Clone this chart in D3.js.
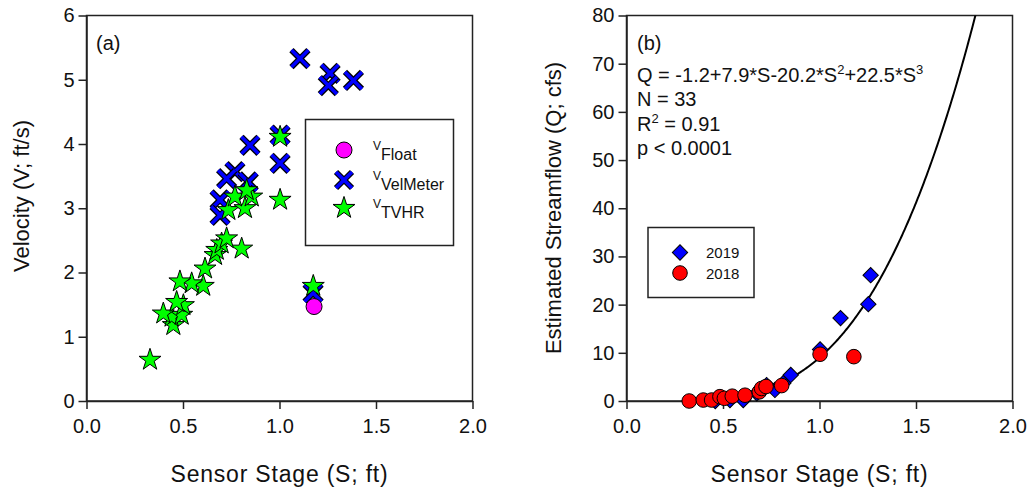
<!DOCTYPE html>
<html>
<head>
<meta charset="utf-8">
<script src="https://cdn.jsdelivr.net/npm/d3@7"></script>
<style>
  body { margin: 0; background: #fff; }
  svg text { font-family: "Liberation Sans", Arial, sans-serif; fill: #111; }
</style>
</head>
<body>
<svg id="chart"></svg>
<script>
const width = 1031, height = 492;

// panel (a): velocity vs stage
const floatStage = [1.179];
const floatVel = [1.47];
const velMeterStage = [1.106, 1.262, 1.253, 1.383, 1.003, 1.003, 0.847, 0.769, 0.726, 0.838, 0.692, 0.692, 1.174];
const velMeterVel   = [5.33, 5.10, 4.91, 4.99, 4.14, 3.70, 3.98, 3.57, 3.46, 3.41, 3.13, 2.89, 1.68];
const tvhrStage = [0.329, 0.450, 0.441, 0.493, 0.398, 0.502, 0.467, 0.605, 0.545, 0.484, 0.614, 0.666, 0.675, 0.804,
                   0.700, 0.726, 0.735, 0.821, 0.769, 0.856, 0.830, 1.003, 1.003, 1.175];
const tvhrVel   = [0.64, 1.18, 1.31, 1.34, 1.36, 1.49, 1.54, 1.79, 1.83, 1.86, 2.06, 2.27, 2.35, 2.37,
                   2.45, 2.53, 2.97, 3.00, 3.18, 3.18, 3.28, 3.13, 4.11, 1.79];

// panel (b): streamflow vs stage
const q2019Stage = [1.265, 1.253, 1.109, 1.003, 0.851, 0.812, 0.769, 0.726, 0.700, 0.675, 0.605, 0.536, 0.460];
const q2019Flow  = [26.1, 20.1, 17.2, 10.7, 5.4, 3.7, 2.3, 3.3, 2.5, 1.6, 0.2, 0.2, 0.0];
const q2018Stage = [0.325, 0.398, 0.441, 0.484, 0.507, 0.548, 0.614, 0.688, 0.700, 0.723, 0.804, 1.003, 1.178];
const q2018Flow  = [0.0, 0.2, 0.2, 0.9, 0.56, 1.0, 1.2, 1.9, 2.6, 3.0, 3.2, 9.7, 9.2];
const fitCoef = [-1.2, 7.9, -20.2, 22.5];

const xTicks = [0, 0.5, 1.0, 1.5, 2.0];
const velTicks = [0, 1, 2, 3, 4, 5, 6];
const flowTicks = [0, 10, 20, 30, 40, 50, 60, 70, 80];

const svg = d3.select("#chart").attr("width", width).attr("height", height);

// scales
const xA = d3.scaleLinear().domain([0, 2]).range([86.5, 472.5]);
const yA = d3.scaleLinear().domain([0, 6]).range([401, 15.5]);
const xB = d3.scaleLinear().domain([0, 2]).range([626.5, 1012.5]);
const yB = d3.scaleLinear().domain([0, 80]).range([401, 15.5]);

function drawFrame(x, y, xt, yt, yfmt) {
    svg.append("rect")
        .attr("x", x.range()[0]).attr("y", y.range()[1])
        .attr("width", x.range()[1] - x.range()[0])
        .attr("height", y.range()[0] - y.range()[1])
        .attr("fill", "none").attr("stroke", "#222").attr("stroke-width", 1.5);

    const gx = svg.append("g").attr("transform", `translate(0,${y.range()[0]})`)
        .call(d3.axisBottom(x).tickValues(xt).tickFormat(d3.format(".1f")).tickSize(8).tickSizeOuter(0));
    const gy = svg.append("g").attr("transform", `translate(${x.range()[0]},0)`)
        .call(d3.axisLeft(y).tickValues(yt).tickFormat(yfmt).tickSize(8).tickSizeOuter(0));
    [gx, gy].forEach(g => {
        g.select(".domain").attr("stroke", "#222").attr("stroke-width", 1.5);
        g.selectAll(".tick line").attr("stroke", "#222").attr("stroke-width", 1.5);
        g.selectAll(".tick text").attr("font-size", 20).attr("fill", "#111")
            .style("font-family", '"Liberation Sans", Arial, sans-serif');
    });
    gx.selectAll(".tick text").attr("dy", "1.05em");
    gy.selectAll(".tick text").attr("x", -12);
}

drawFrame(xA, yA, xTicks, velTicks, d3.format("d"));
drawFrame(xB, yB, xTicks, flowTicks, d3.format("d"));

// axis titles
svg.append("text").attr("x", (xA.range()[0] + xA.range()[1]) / 2).attr("y", 482)
    .attr("text-anchor", "middle").attr("font-size", 23).style("letter-spacing", "0.8px")
    .text("Sensor Stage (S; ft)");
svg.append("text").attr("x", (xB.range()[0] + xB.range()[1]) / 2).attr("y", 482)
    .attr("text-anchor", "middle").attr("font-size", 23).style("letter-spacing", "0.8px")
    .text("Sensor Stage (S; ft)");
svg.append("text").attr("transform", "translate(29,196) rotate(-90)")
    .attr("text-anchor", "middle").attr("font-size", 22)
    .text("Velocity (V; ft/s)");
svg.append("text").attr("transform", "translate(561,208) rotate(-90)")
    .attr("text-anchor", "middle").attr("font-size", 22)
    .text("Estimated Streamflow (Q; cfs)");

// panel labels
svg.append("text").attr("x", 96).attr("y", 50).attr("font-size", 20).text("(a)");
svg.append("text").attr("x", 637).attr("y", 50).attr("font-size", 20).text("(b)");

// marker helpers
const star = d3.symbol().type(d3.symbolStar).size(150);
function drawCross(g, cx, cy, s) {
    [[-s, -s, s, s], [-s, s, s, -s]].forEach(([a, b, c, d]) => {
        g.append("line").attr("x1", cx + a).attr("y1", cy + b).attr("x2", cx + c).attr("y2", cy + d)
            .attr("stroke", "#000").attr("stroke-width", 6);
    });
    [[-s, -s, s, s], [-s, s, s, -s]].forEach(([a, b, c, d]) => {
        g.append("line").attr("x1", cx + a).attr("y1", cy + b).attr("x2", cx + c).attr("y2", cy + d)
            .attr("stroke", "#0000ff").attr("stroke-width", 3.5);
    });
}

// panel (a) points
const gA = svg.append("g");
velMeterStage.forEach((s, i) => drawCross(gA.append("g"), xA(s), yA(velMeterVel[i]), 8.5));
gA.selectAll(".float").data(floatStage).enter().append("circle")
    .attr("cx", d => xA(d)).attr("cy", (d, i) => yA(floatVel[i])).attr("r", 8)
    .attr("fill", "#ff00ff").attr("stroke", "#000").attr("stroke-width", 1);
gA.selectAll(".tvhr").data(tvhrStage).enter().append("path")
    .attr("d", star)
    .attr("transform", (d, i) => `translate(${xA(d)},${yA(tvhrVel[i])})`)
    .attr("fill", "#00ff00").attr("stroke", "#000").attr("stroke-width", 1);

// panel (a) legend
svg.append("rect").attr("x", 305.5).attr("y", 119.5).attr("width", 148).attr("height", 126)
    .attr("fill", "#fff").attr("stroke", "#222").attr("stroke-width", 1.5);
svg.append("circle").attr("cx", 344).attr("cy", 150).attr("r", 8)
    .attr("fill", "#ff00ff").attr("stroke", "#000");
drawCross(svg.append("g"), 344, 180, 8);
svg.append("path").attr("d", star).attr("transform", "translate(344,208)")
    .attr("fill", "#00ff00").attr("stroke", "#000");
[["Float", 150], ["VelMeter", 180], ["TVHR", 208]].forEach(([sub, cy]) => {
    const t = svg.append("text").attr("x", 373).attr("y", cy);
    t.append("tspan").attr("font-size", 12).text("V");
    t.append("tspan").attr("font-size", 16).attr("dy", 10).text(sub);
});

// panel (b) curve
svg.append("clipPath").attr("id", "clipB").append("rect")
    .attr("x", xB.range()[0]).attr("y", yB.range()[1])
    .attr("width", xB.range()[1] - xB.range()[0]).attr("height", yB.range()[0] - yB.range()[1]);
const fit = s => fitCoef[0] + fitCoef[1] * s + fitCoef[2] * s * s + fitCoef[3] * s * s * s;
const curveS = d3.range(0.33, 1.86, 0.005);
svg.append("path").attr("clip-path", "url(#clipB)")
    .attr("d", d3.line().x(s => xB(s)).y(s => yB(fit(s)))(curveS))
    .attr("fill", "none").attr("stroke", "#000").attr("stroke-width", 2);

// panel (b) points
const diamond = d3.symbol().type(d3.symbolSquare).size(118);
const gB = svg.append("g");
gB.selectAll(".d2019").data(q2019Stage).enter().append("path")
    .attr("d", diamond)
    .attr("transform", (d, i) => `translate(${xB(d)},${yB(q2019Flow[i])}) rotate(45)`)
    .attr("fill", "#0000ff").attr("stroke", "#000").attr("stroke-width", 1);
gB.selectAll(".d2018").data(q2018Stage).enter().append("circle")
    .attr("cx", d => xB(d)).attr("cy", (d, i) => yB(q2018Flow[i])).attr("r", 7.3)
    .attr("fill", "#ff0000").attr("stroke", "#000").attr("stroke-width", 1);

// panel (b) legend
svg.append("rect").attr("x", 648).attr("y", 227.5).attr("width", 106).attr("height", 70)
    .attr("fill", "#fff").attr("stroke", "#222").attr("stroke-width", 1.5);
svg.append("path").attr("d", diamond)
    .attr("transform", "translate(680,252.5) rotate(45)")
    .attr("fill", "#0000ff").attr("stroke", "#000");
svg.append("circle").attr("cx", 680).attr("cy", 273).attr("r", 7.3)
    .attr("fill", "#ff0000").attr("stroke", "#000");
svg.append("text").attr("x", 706).attr("y", 258).attr("font-size", 15).text("2019");
svg.append("text").attr("x", 706).attr("y", 279).attr("font-size", 15).text("2018");

// panel (b) fit statistics
const eq = svg.append("text").attr("x", 637).attr("y", 82).attr("font-size", 20);
eq.append("tspan").text("Q = -1.2+7.9*S-20.2*S");
eq.append("tspan").attr("font-size", 13).attr("dy", -8).text("2");
eq.append("tspan").attr("dy", 8).text("+22.5*S");
eq.append("tspan").attr("font-size", 13).attr("dy", -8).text("3");
svg.append("text").attr("x", 637).attr("y", 106).attr("font-size", 20).text("N = 33");
const r2 = svg.append("text").attr("x", 637).attr("y", 131).attr("font-size", 20);
r2.append("tspan").text("R");
r2.append("tspan").attr("font-size", 13).attr("dy", -8).text("2");
r2.append("tspan").attr("dy", 8).text(" = 0.91");
svg.append("text").attr("x", 637).attr("y", 155).attr("font-size", 20).text("p < 0.0001");
</script>
</body>
</html>
